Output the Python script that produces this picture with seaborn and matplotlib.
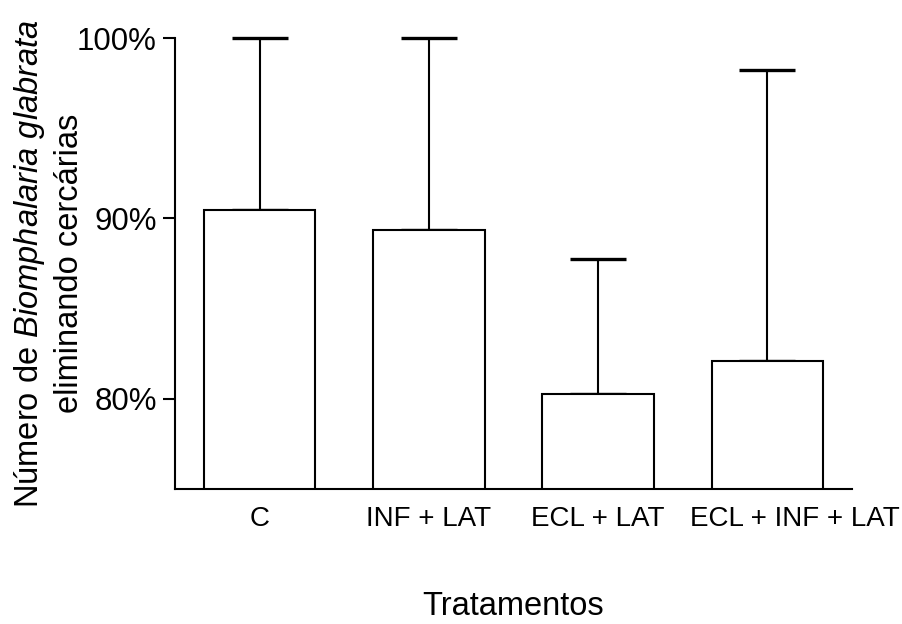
import matplotlib
matplotlib.use("Agg")
import matplotlib.pyplot as plt
import matplotlib.transforms as mtransforms
import seaborn as sns
import numpy as np
import pandas as pd

categories = ["C", "INF + LAT", "ECL + LAT", "ECL + INF + LAT"]
means = [90.45, 89.38, 80.24, 82.1]
upper = [100.0, 100.0, 87.76, 98.23]
yticks = [80, 90, 100]
ytick_labels = ["80%", "90%", "100%"]

sns.set_theme(style="white")
plt.rcParams["font.family"] = ["Liberation Sans", "DejaVu Sans"]
plt.rcParams["mathtext.fontset"] = "custom"
plt.rcParams["mathtext.rm"] = "Liberation Sans"
plt.rcParams["mathtext.it"] = "Liberation Sans:italic"

df = pd.DataFrame({"cat": categories, "val": means})

fig = plt.figure(figsize=(9.03, 6.24), dpi=100)
ax = fig.add_axes([175 / 903, 1 - 489 / 624, 677 / 903, 451 / 624])

sns.barplot(data=df, x="cat", y="val", order=categories, color="white",
            edgecolor="black", linewidth=1.5, width=0.66, errorbar=None,
            ax=ax, zorder=2)
for p in ax.patches:
    p.set_facecolor("white")
    p.set_edgecolor("black")

x = np.arange(len(categories))
err_up = np.array(upper) - np.array(means)
ax.errorbar(x, means, yerr=[np.zeros(len(means)), err_up], fmt="none",
            ecolor="black", elinewidth=1.5, capsize=20.5, capthick=2.4,
            clip_on=False, zorder=1)

ax.set_xlim(-0.5, 3.5)
ax.set_ylim(75, 100)
ax.set_yticks(yticks)
ax.set_yticklabels(ytick_labels)

for s in ["top", "right"]:
    ax.spines[s].set_visible(False)
for s in ["left", "bottom"]:
    ax.spines[s].set_color("black")
    ax.spines[s].set_linewidth(1.5)

ax.tick_params(axis="y", which="major", left=True, length=9, width=1.5,
               color="black", labelsize=22.5, pad=4, labelcolor="black")
ax.tick_params(axis="x", which="major", bottom=False, length=0,
               labelsize=20, pad=12, labelcolor="black")

# last category label sits slightly to the right in the reference
last = ax.get_xticklabels()[-1]
last.set_transform(last.get_transform() +
                   mtransforms.ScaledTranslation(0.28, 0, fig.dpi_scale_trans))

ax.set_xlabel("Tratamentos", fontsize=23.5, color="black", labelpad=43)
ax.set_ylabel("Número de $Biomphalaria$ $glabrata$\neliminando cercárias",
              fontsize=23.5, color="black", linespacing=1.3)
ax.yaxis.set_label_coords((85 - 175) / 677, 0.5)

fig.savefig("out.png", dpi=100, facecolor="white")
